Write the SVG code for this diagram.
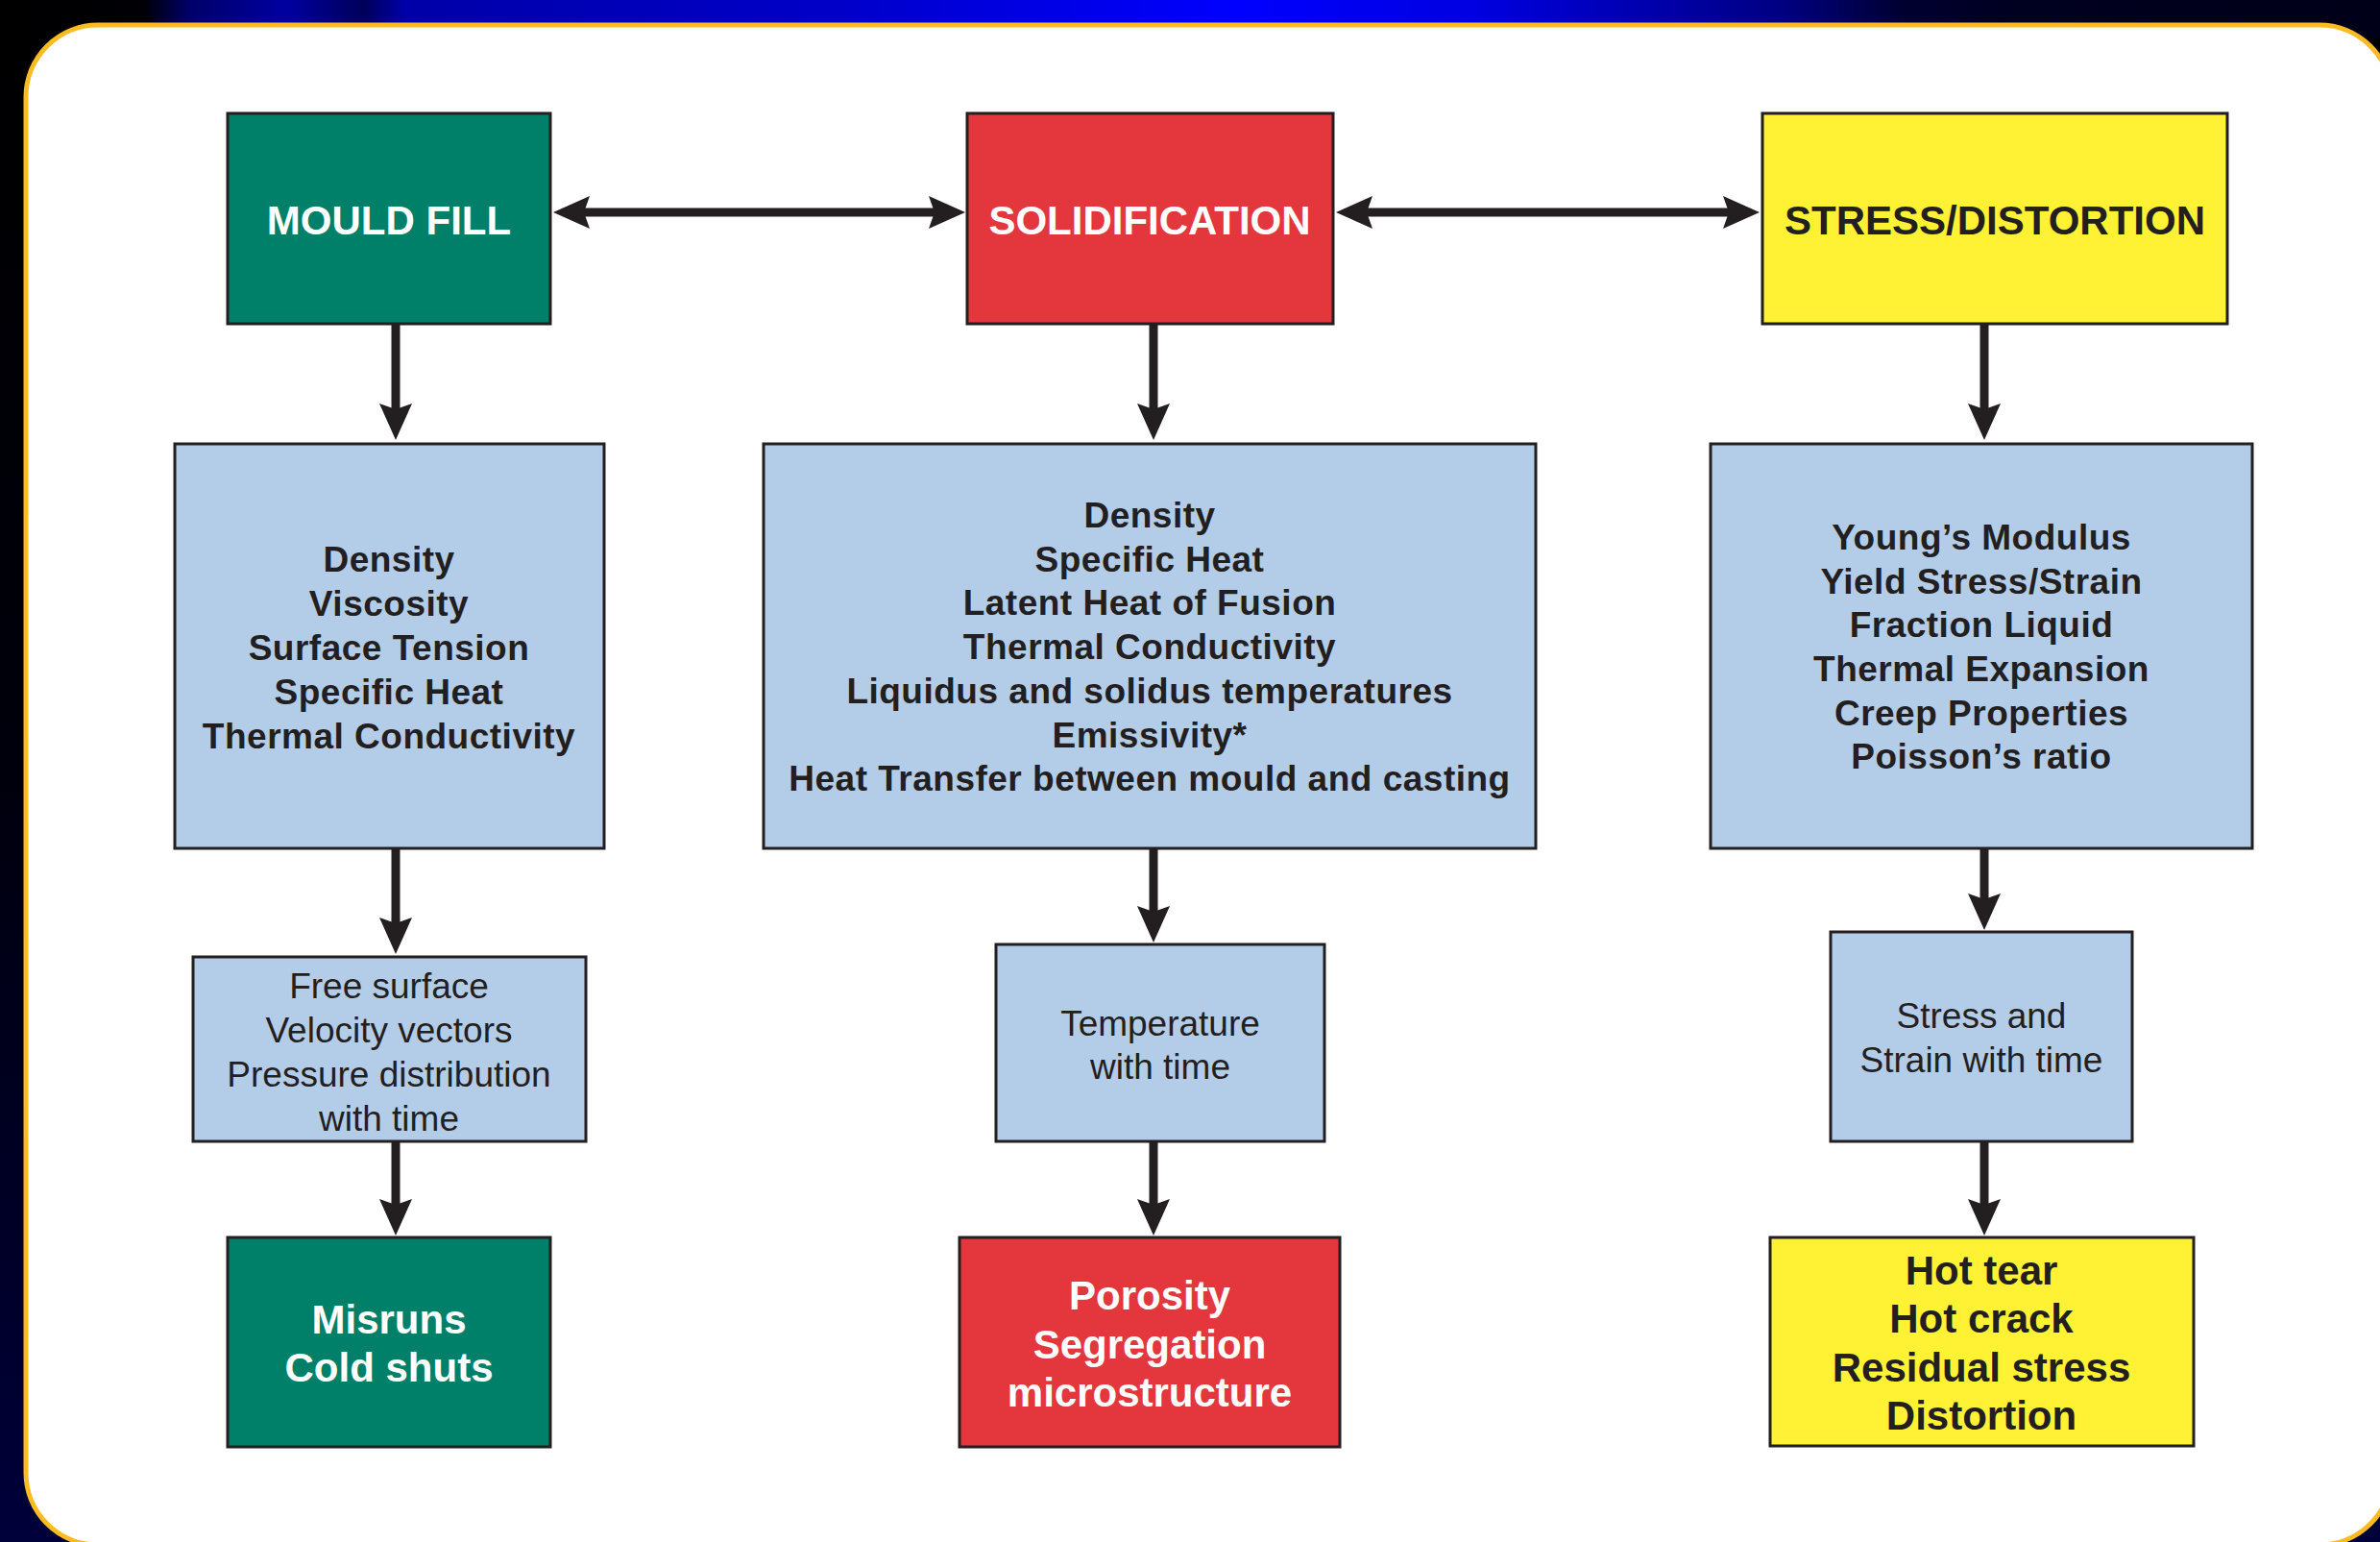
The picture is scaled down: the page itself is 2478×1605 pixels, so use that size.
<svg xmlns="http://www.w3.org/2000/svg" width="2478" height="1605" viewBox="0 0 2478 1605">
  <defs>
    <linearGradient id="sideGrad" x1="0" y1="0" x2="0" y2="1">
      <stop offset="0" stop-color="#000000"/>
      <stop offset="0.5" stop-color="#00000c"/>
      <stop offset="1" stop-color="#00003a"/>
    </linearGradient>
    <linearGradient id="topGrad" x1="0" y1="0" x2="1" y2="0">
      <stop offset="0" stop-color="#000000"/>
      <stop offset="0.06" stop-color="#000005"/>
      <stop offset="0.08" stop-color="#00006a"/>
      <stop offset="0.12" stop-color="#0000a0"/>
      <stop offset="0.153" stop-color="#00005a"/>
      <stop offset="0.17" stop-color="#0000a8"/>
      <stop offset="0.35" stop-color="#0000c8"/>
      <stop offset="0.52" stop-color="#0000ff"/>
      <stop offset="0.62" stop-color="#0000e0"/>
      <stop offset="0.7" stop-color="#0000a8"/>
      <stop offset="0.75" stop-color="#000080"/>
      <stop offset="0.8" stop-color="#000030"/>
      <stop offset="0.85" stop-color="#000020"/>
      <stop offset="1" stop-color="#000018"/>
    </linearGradient>
    <!-- arrowhead: tip sits 30 units past the end of the shaft -->
    <marker id="head" markerUnits="userSpaceOnUse" viewBox="-10 -20 42 40" refX="0" refY="0" markerWidth="42" markerHeight="40" orient="auto-start-reverse">
      <path d="M30,0 L-8,-17 L-2,0 L-8,17 Z" fill="#231f20"/>
    </marker>
    <style>
      .box { stroke: #231f20; stroke-width: 3; }
      .green { fill: #008069; }
      .red { fill: #e3363d; }
      .yellow { fill: #fff234; }
      .blue { fill: #b3cde8; }
      .title { font-family: "Liberation Sans", Arial, sans-serif; font-weight: bold; font-size: 42px; text-anchor: middle; }
      .prop { font-family: "Liberation Sans", Arial, sans-serif; font-weight: bold; font-size: 37px; letter-spacing: 0.5px; text-anchor: middle; fill: #231f20; }
      .out { font-family: "Liberation Sans", Arial, sans-serif; font-size: 37px; text-anchor: middle; fill: #231f20; }
      .light { fill: #ffffff; }
      .dark { fill: #231f20; }
      .link { stroke: #231f20; stroke-width: 9; fill: none; marker-end: url(#head); }
      .link2 { stroke: #231f20; stroke-width: 9; fill: none; marker-start: url(#head); marker-end: url(#head); }
    </style>
  </defs>

  <!-- backdrop -->
  <rect x="0" y="0" width="2478" height="1605" fill="url(#sideGrad)"/>
  <rect x="0" y="0" width="2478" height="40" fill="url(#topGrad)"/>
  <rect x="27" y="26" width="2463" height="1582" rx="75" ry="75" fill="#ffffff" stroke="#fbbb21" stroke-width="5"/>

  <!-- connectors -->
  <g id="connectors">
    <line class="link2" x1="606" y1="221" x2="975" y2="221"/>
    <line class="link2" x1="1421" y1="221" x2="1802" y2="221"/>
    <line class="link" x1="412" y1="338" x2="412" y2="428"/>
    <line class="link" x1="1201" y1="338" x2="1201" y2="428"/>
    <line class="link" x1="2066" y1="338" x2="2066" y2="428"/>
    <line class="link" x1="412" y1="884" x2="412" y2="963"/>
    <line class="link" x1="1201" y1="884" x2="1201" y2="951"/>
    <line class="link" x1="2066" y1="884" x2="2066" y2="938"/>
    <line class="link" x1="412" y1="1189" x2="412" y2="1256"/>
    <line class="link" x1="1201" y1="1189" x2="1201" y2="1256"/>
    <line class="link" x1="2066" y1="1189" x2="2066" y2="1256"/>
  </g>

  <!-- top row -->
  <g id="mould-fill">
    <rect class="box green" x="237" y="118" width="336" height="219"/>
    <text class="title light" x="405" y="244">MOULD FILL</text>
  </g>
  <g id="solidification">
    <rect class="box red" x="1007" y="118" width="381" height="219"/>
    <text class="title light" x="1197" y="244">SOLIDIFICATION</text>
  </g>
  <g id="stress-distortion">
    <rect class="box yellow" x="1835" y="118" width="484" height="219"/>
    <text class="title dark" x="2077" y="244">STRESS/DISTORTION</text>
  </g>

  <!-- material property rows -->
  <g id="fill-properties">
    <rect class="box blue" x="182" y="462" width="447" height="421"/>
    <text class="prop" x="405" y="595">Density</text>
    <text class="prop" x="405" y="641">Viscosity</text>
    <text class="prop" x="405" y="687">Surface Tension</text>
    <text class="prop" x="405" y="733">Specific Heat</text>
    <text class="prop" x="405" y="779">Thermal Conductivity</text>
  </g>
  <g id="solid-properties">
    <rect class="box blue" x="795" y="462" width="804" height="421"/>
    <text class="prop" x="1197" y="549">Density</text>
    <text class="prop" x="1197" y="595">Specific Heat</text>
    <text class="prop" x="1197" y="640">Latent Heat of Fusion</text>
    <text class="prop" x="1197" y="686">Thermal Conductivity</text>
    <text class="prop" x="1197" y="732">Liquidus and solidus temperatures</text>
    <text class="prop" x="1197" y="778">Emissivity*</text>
    <text class="prop" x="1197" y="823">Heat Transfer between mould and casting</text>
  </g>
  <g id="stress-properties">
    <rect class="box blue" x="1781" y="462" width="564" height="421"/>
    <text class="prop" x="2063" y="572">Young’s Modulus</text>
    <text class="prop" x="2063" y="618">Yield Stress/Strain</text>
    <text class="prop" x="2063" y="663">Fraction Liquid</text>
    <text class="prop" x="2063" y="709">Thermal Expansion</text>
    <text class="prop" x="2063" y="755">Creep Properties</text>
    <text class="prop" x="2063" y="800">Poisson’s ratio</text>
  </g>

  <!-- computed results -->
  <g id="fill-results">
    <rect class="box blue" x="201" y="996" width="409" height="192"/>
    <text class="out" x="405" y="1039">Free surface</text>
    <text class="out" x="405" y="1085">Velocity vectors</text>
    <text class="out" x="405" y="1131">Pressure distribution</text>
    <text class="out" x="405" y="1177">with time</text>
  </g>
  <g id="solid-results">
    <rect class="box blue" x="1037" y="983" width="342" height="205"/>
    <text class="out" x="1208" y="1078">Temperature</text>
    <text class="out" x="1208" y="1123">with time</text>
  </g>
  <g id="stress-results">
    <rect class="box blue" x="1906" y="970" width="314" height="218"/>
    <text class="out" x="2063" y="1070">Stress and</text>
    <text class="out" x="2063" y="1116">Strain with time</text>
  </g>

  <!-- predicted defects -->
  <g id="fill-defects">
    <rect class="box green" x="237" y="1288" width="336" height="218"/>
    <text class="title light" x="405" y="1388">Misruns</text>
    <text class="title light" x="405" y="1438">Cold shuts</text>
  </g>
  <g id="solid-defects">
    <rect class="box red" x="999" y="1288" width="396" height="218"/>
    <text class="title light" x="1197" y="1363">Porosity</text>
    <text class="title light" x="1197" y="1414">Segregation</text>
    <text class="title light" x="1197" y="1464">microstructure</text>
  </g>
  <g id="stress-defects">
    <rect class="box yellow" x="1843" y="1288" width="441" height="217"/>
    <text class="title dark" x="2063" y="1337">Hot tear</text>
    <text class="title dark" x="2063" y="1387">Hot crack</text>
    <text class="title dark" x="2063" y="1438">Residual stress</text>
    <text class="title dark" x="2063" y="1488">Distortion</text>
  </g>
</svg>
